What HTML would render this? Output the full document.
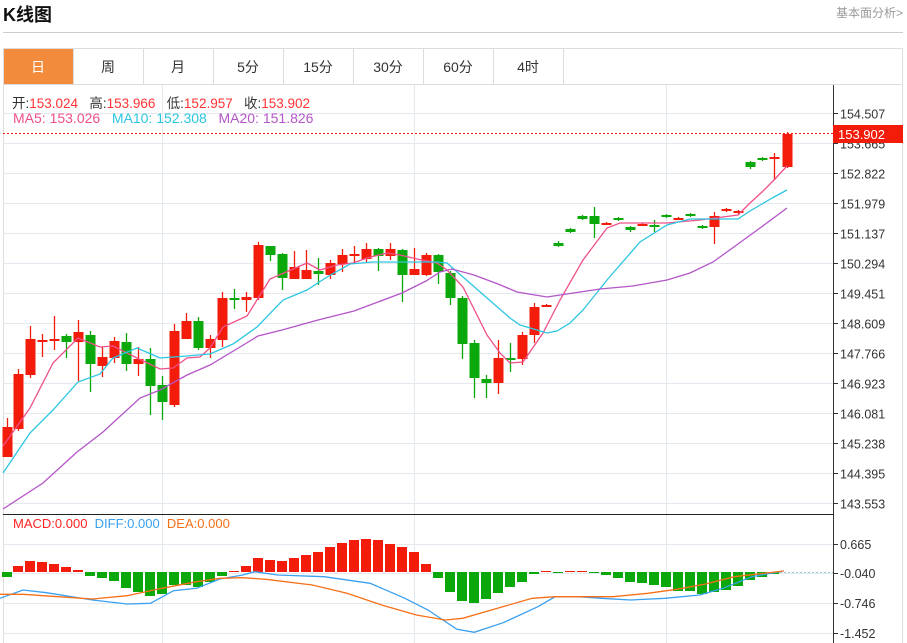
<!DOCTYPE html>
<html><head><meta charset="utf-8"><style>
body{margin:0;width:907px;height:643px;background:#fff;overflow:hidden;position:relative;font-family:"Liberation Sans","Noto Sans CJK SC",sans-serif}
.t{position:absolute;white-space:nowrap}
</style></head><body>
<div class="t" style="left:3px;top:1px;font-size:18px;font-weight:bold;color:#111">K线图</div>
<div class="t" style="left:836px;top:4px;font-size:12px;color:#999">基本面分析&gt;</div>
<div style="position:absolute;left:3px;top:32px;width:900px;height:1px;background:#ccc"></div>
<svg id="s" width="907" height="643" style="position:absolute;left:0;top:0"></svg>
<div class="t" style="left:12px;top:92px;font-size:13.5px;color:#333">开:<span style="color:#f33">153.024</span>&nbsp;&nbsp; 高:<span style="color:#f33">153.966</span>&nbsp;&nbsp; 低:<span style="color:#f33">152.957</span>&nbsp;&nbsp; 收:<span style="color:#f33">153.902</span></div>
<div class="t" style="left:13px;top:110px;font-size:14px"><span style="color:#f0508a">MA5: 153.026</span>&nbsp;&nbsp; <span style="color:#2cc6e0">MA10: 152.308</span>&nbsp;&nbsp; <span style="color:#b455c8">MA20: 151.826</span></div>
<div class="t" style="left:13px;top:516px;font-size:13px"><span style="color:#f22">MACD:0.000</span>&nbsp; <span style="color:#3aa0f0">DIFF:0.000</span>&nbsp; <span style="color:#f77018">DEA:0.000</span></div>
<script>
var s='';
function R(x,y,w,h,c){s+='<rect x="'+x+'" y="'+y+'" width="'+w+'" height="'+h+'" fill="'+c+'"/>';}
function L(x1,y1,x2,y2,c,w,d){s+='<line x1="'+x1+'" y1="'+y1+'" x2="'+x2+'" y2="'+y2+'" stroke="'+c+'" stroke-width="'+(w||1)+'"'+(d?' stroke-dasharray="'+d+'"':'')+'/>';}
function T(x,y,t,c,sz,a,fill){s+='<text x="'+x+'" y="'+y+'" font-size="'+sz+'" fill="'+c+'" text-anchor="'+(a||'start')+'" font-family="Liberation Sans, Noto Sans CJK SC, sans-serif">'+t+'</text>';}
L(3,48.5,903,48.5,'#ddd');L(3,84.5,903,84.5,'#ddd');L(3.5,48,3.5,643,'#ddd');L(902.5,48,902.5,643,'#ddd');
var tabs=['日','周','月','5分','15分','30分','60分','4时'];
for(var i=0;i<8;i++){var x=3+i*70;if(i==0)R(4,49,69,35,'#f28c3c');L(x+70.5,49,x+70.5,84,'#ddd');T(x+35,72,tabs[i],i==0?'#fff':'#333',14,'middle');}
var labs=['154.507','153.665','152.822','151.979','151.137','150.294','149.451','148.609','147.766','146.923','146.081','145.238','144.395','143.553'];
for(var i=0;i<14;i++){var y=113+i*30+0.5;L(3,y,833,y,'#e3e9ef');L(833,y,838,y,'#333');T(840,y+5,labs[i],'#333',12.5);}
[162.5,414.5,666.5].forEach(function(x){L(x,85,x,643,'#e3e9ef');});
var ml=[[544,'0.665'],[573,'-0.040'],[603,'-0.746'],[633,'-1.452']];
ml.forEach(function(m){L(3,m[0]+.5,833,m[0]+.5,'#e3e9ef');L(833,m[0]+.5,838,m[0]+.5,'#333');T(840,m[0]+5,m[1],'#333',12.5);});
L(3,514.5,833,514.5,'#222');L(833.5,85,833.5,643,'#333');
var C=[[7,457,427,418,457],[18,429,374,369,431],[30,375,339,326,378],[42,342,340,334,357],[54,341,339,316,350],[66,336,342,334,358],[78,342,332,320,381],[90,335,364,331,392],[102,366,357,347,377],[114,358,341,337,363],[126,342,364,333,371],[138,364,359,347,376],[150,359,386,348,415],[162,385,402,376,420],[174,405,331,324,407],[186,339,321,313,335],[198,321,348,317,350],[210,348,339,335,358],[222,340,298,292,347],[234,298,300,289,309],[246,300,297,292,312],[258,298,245,242,300],[270,246,255,246,261],[282,254,278,253,290],[294,279,267,251,279],[306,279,270,250,279],[318,271,274,258,285],[330,275,263,260,279],[342,264,255,249,272],[354,256,254,246,263],[366,259,249,243,263],[378,249,256,248,271],[390,256,249,243,260],[402,250,275,249,302],[414,275,269,248,275],[426,275,255,253,276],[438,255,272,254,284],[450,273,298,271,305],[462,298,344,296,359],[474,343,378,340,398],[486,379,383,375,398],[498,383,358,340,394],[510,358,359,343,372],[522,359,335,332,365],[534,335,307,303,343],[546,307,305,304,307],[558,243,246,241,247],[570,229,232,228,233],[582,216,219,215,220],[594,216,224,207,238],[606,225,223,222,225],[618,218,220,217,221],[630,227,230,226,232],[642,225,224,223,225],[654,225,227,220,232],[666,215,217,214,218],[678,220,218,217,220],[690,214,216,213,217],[702,226,228,225,229],[714,227,216,212,244],[726,211,209,208,212],[738,213,211,210,214],[750,162,167,161,169],[762,158,160,157,161],[774,159,157,153,180],[787,167,134,132,168]];
C.forEach(function(c){var up=c[2]<c[1];var col=up?'#f31b0a':'#0aa80a';L(c[0]+.5,c[3],c[0]+.5,c[4],col,1.3);var t=Math.min(c[1],c[2]),b=Math.max(c[1],c[2]);R(c[0]-4.5,t,10,Math.max(b-t,2),col);});
function P(pts,c){s+='<polyline fill="none" stroke="'+c+'" stroke-width="1.3" points="'+pts.map(function(p){return p.join(',')}).join(' ')+'"/>';}
P([[3,446],[30,408],[53,363],[78,338],[100,347],[113,346],[137,358],[160,369],[173,368],[187,358],[200,357],[210,348],[223,327],[247,316],[270,279],[307,263],[320,270],[337,265],[353,263],[367,258],[387,253],[400,255],[417,259],[437,263],[447,270],[463,287],[487,335],[500,353],[510,363],[523,362],[543,333],[560,300],[583,260],[607,228],[620,223],[667,223],[700,220],[738,215],[750,203],[762,192],[774,180],[787,166]],'#f0508a');
P([[3,473],[30,433],[53,410],[78,382],[100,374],[113,358],[137,348],[160,358],[187,356],[210,354],[233,344],[257,327],[283,300],[307,290],[327,277],[350,264],[373,262],[437,262],[447,263],[463,277],[487,298],[510,318],[520,325],[547,333],[557,331],[570,323],[583,310],[607,280],[640,242],[667,225],[690,219],[738,219],[750,211],[762,204],[774,197],[787,190]],'#2cc6e0');
P([[3,509],[43,483],[77,452],[103,432],[140,398],[160,390],[187,375],[210,365],[240,347],[258,336],[282,330],[318,320],[354,311],[378,302],[402,293],[426,281],[440,272],[452,269],[474,275],[498,284],[517,292],[547,297],[600,289],[633,286],[667,280],[690,273],[713,262],[738,244],[760,228],[787,208]],'#b455c8');
L(3,133.5,833,133.5,'#f31b0a',1,'2,2');R(833,125,70,18,'#f31b0a');T(838,139,'153.902','#fff',13);
var B=[[7,577],[18,566],[30,561],[42,562],[54,564],[66,567],[78,570],[90,576],[102,578],[114,581],[126,588],[138,592],[150,596],[162,594],[174,585],[186,585],[198,587],[210,582],[222,576],[234,571],[246,566],[258,558],[270,560],[282,561],[294,558],[306,555],[318,552],[330,547],[342,543],[354,540],[366,539],[378,540],[390,544],[402,547],[414,552],[426,564],[438,578],[450,592],[462,601],[474,603],[486,599],[498,593],[510,587],[522,582],[534,574],[546,571],[558,573],[570,571],[582,571],[594,573],[606,575],[618,578],[630,582],[642,583],[654,585],[666,587],[678,591],[690,591],[702,594],[714,592],[726,590],[738,586],[750,580],[762,577],[774,574]];
var z=572;B.forEach(function(b){var red=b[1]<z;var col=red?'#f31b0a':'#0aa80a';var t=Math.min(b[1],z),h=Math.max(Math.abs(b[1]-z),1);R(b[0]-5,t,10,h,col);});
L(780,572.5,833,572.5,'#9cd','1','2,2');
function M(a){return a.map(function(p){return [(p[0]/1.729).toFixed(1),(p[1]/3+500).toFixed(1)];});}
P(M([[0,295],[40,270],[80,278],[160,300],[220,312],[260,310],[300,272],[340,265],[380,237],[420,225],[440,215],[480,225],[560,230],[640,250],[700,295],[740,330],[790,388],[820,397],[870,368],[930,320],[960,290],[1000,290],[1040,295],[1090,300],[1150,295],[1210,285],[1250,265],[1300,230],[1355,213]]),'#3aa0f0');
P(M([[0,283],[40,283],[100,290],[160,297],[220,287],[280,265],[340,245],[380,235],[420,233],[460,238],[540,255],[600,280],[660,315],[720,345],[770,360],[800,355],[860,325],[920,295],[960,290],[1060,290],[1120,280],[1170,268],[1220,252],[1270,230],[1355,213]]),'#f77018');
document.getElementById('s').innerHTML=s;
</script>
</body></html>
